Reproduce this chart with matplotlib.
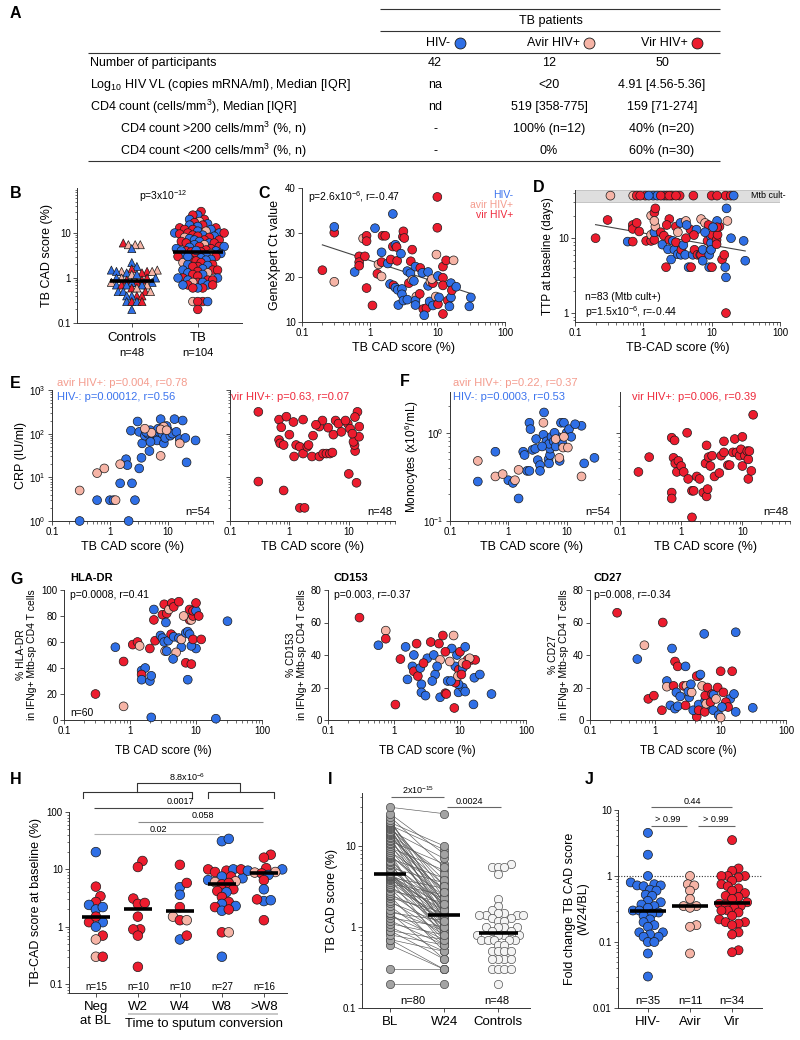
import numpy as np
import matplotlib
matplotlib.use('Agg')
from matplotlib import pyplot as plt
from matplotlib.ticker import FixedLocator, FuncFormatter, NullFormatter, LogLocator

plt.rcParams['font.family'] = ['Liberation Sans', 'DejaVu Sans']
plt.rcParams['mathtext.fontset'] = 'custom'
plt.rcParams['mathtext.rm'] = 'Liberation Sans'
plt.rcParams['mathtext.it'] = 'Liberation Sans:italic'
plt.rcParams['mathtext.bf'] = 'Liberation Sans:bold'
plt.rcParams['mathtext.default'] = 'regular'

# ---------------- data ----------------
# A: table
tab_rows = ["Number of participants",
            "Log$_{10}$ HIV VL (copies mRNA/ml), Median [IQR]",
            "CD4 count (cells/mm$^3$), Median [IQR]",
            "CD4 count >200 cells/mm$^3$ (%, n)",
            "CD4 count <200 cells/mm$^3$ (%, n)"]
tab_indent = [0, 0, 0, 1, 1]
tab_hivneg = ["42", "na", "nd", "-", "-"]
tab_avir = ["12", "<20", "519 [358-775]", "100% (n=12)", "0%"]
tab_vir = ["50", "4.91 [4.56-5.36]", "159 [71-274]", "40% (n=20)", "60% (n=30)"]
tab_groups = ["HIV-", "Avir HIV+", "Vir HIV+"]

# B: controls (triangles) and TB (circles)
ctrl_cad = [6.0, 5.5, 5.5, 5.5, 4.5, 2.2, 1.8, 1.6, 1.5, 1.5,
            1.4, 1.4, 1.4, 1.4, 1.3, 1.3, 1.2, 1.2, 1.0, 1.0,
            1.0, 1.0, 0.9, 0.9, 0.8, 0.8, 0.8, 0.8, 0.7, 0.7,
            0.7, 0.7, 0.7, 0.6, 0.6, 0.5, 0.5, 0.5, 0.5, 0.4,
            0.4, 0.4, 0.4, 0.3, 0.3, 0.3, 0.3, 0.2]
ctrl_col = 'rpppbbbrpb' 'prbprbpbrp' 'bbrrpbrbbp' 'rbbrpbbrpr' 'brbbrbrb'
tb_cad = [30, 25, 25, 20, 20, 18, 17, 16, 15, 15,
          14, 13, 13, 12, 12, 12, 11, 11, 10, 10,
          10, 10, 9.5, 9, 9, 8.5, 8.5, 8, 8, 7.5,
          7, 7, 7, 6.5, 6.5, 6, 6, 6, 5.5, 5.5,
          5, 5, 5, 4.8, 4.5, 4.5, 4.2, 4, 4, 4,
          3.8, 3.8, 3.5, 3.5, 3.2, 3.2, 3, 3, 3, 2.8,
          2.6, 2.5, 2.5, 2.4, 2.2, 2.2, 2.0, 2.0, 1.9, 1.8,
          1.8, 1.6, 1.5, 1.5, 1.5, 1.4, 1.3, 1.3, 1.2, 1.2,
          1.1, 1.0, 1.0, 1.0, 0.9, 0.9, 0.9, 0.8, 0.8, 0.8,
          0.7, 0.7, 0.7, 0.7, 0.6, 0.6, 0.6, 4.1, 0.3, 0.3,
          0.3, 0.3, 0.2, 3.0]
tb_col = ('rbrrbprbrb' 'brrbrrbpbr' 'rbrbrrbrpb' 'brrbrbrrbp' 'rbrbbrrbrb'
          'rrbpbrbrrb' 'brbrrpbrbr' 'rbrrbrbprb' 'rbrbrrbrbp' 'brrbrbrbrp' 'rbrb')

# C: GeneXpert Ct vs TB CAD
c_cad = [0.2, 0.3, 0.3, 0.3, 0.6, 0.7, 0.7, 0.7, 0.85, 0.8,
         0.9, 0.9, 0.9, 1.1, 1.3, 1.35, 1.5, 1.5, 1.5, 1.55,
         1.7, 1.2, 1.85, 2.05, 2.0, 2.25, 2.4, 2.2, 2.4, 2.5,
         2.6, 2.65, 2.55, 2.9, 3.0, 3.0, 3.1, 3.15, 3.25, 3.15,
         3.6, 3.6, 4.25, 4.05, 3.8, 4.0, 4.25, 4.5, 4.75, 4.9,
         4.75, 4.75, 5.5, 5.6, 6.0, 6.2, 6.9, 6.4, 7.3, 7.3,
         7.9, 8.6, 8.3, 7.7, 8.6, 9.5, 9.7, 10.2, 10.2, 10.6,
         10, 12.1, 12.1, 12.1, 12.1, 13.5, 14.3, 15.1, 15.9, 15.9,
         17.4, 16.4, 19, 29.7, 31.3, 10, 2.2]
c_ct = [21.6, 19, 30, 31.3, 21.2, 24.7, 23.4, 22.6, 24.7, 28.7,
        29.3, 28.1, 17.6, 13.7, 20.8, 22.9, 20.2, 23.4, 25.6, 29.3,
        29.3, 31, 23.1, 24, 18.5, 18.2, 17.7, 26.9, 27.3, 26.8,
        17.2, 13.8, 23.7, 25.3, 17.4, 16.2, 29.1, 30.3, 28.8, 14.8,
        15, 21.4, 26.2, 23.6, 18.7, 20.9, 19.4, 19.2, 22.4, 15.7,
        14.8, 13.8, 16.3, 22.1, 21, 12.9, 13.1, 11.5, 21.2, 18.1,
        19, 18.7, 19.6, 14.6, 13.7, 15.7, 25.1, 14, 20.3, 15.5,
        31.1, 22.4, 19.9, 18.2, 11.8, 23.8, 14.8, 13.5, 15.5, 18.7,
        23.8, 17.1, 17.9, 13.5, 15.5, 38, 34.2]
c_col = ('rprbbrrrrp' 'rrrrrpprbr' 'rbbrbrbrbr' 'bbrbbbrrrb' 'bbrrrbpbbp'
         'bbrrbrrbbb' 'prpbbpprbb' 'rrrrrrrbbb' 'prbbbrb')

# D: TTP vs TB CAD (culture positive) + culture negative row
d_cad = [0.2, 0.59, 0.7, 0.7, 0.7, 0.87, 1.1, 1.3, 1.3, 1.45,
         1.45, 1.5, 1.8, 2.0, 1.9, 2.15, 2.3, 2.4, 2.55, 2.7,
         2.85, 3.0, 3.0, 3.2, 3.55, 3.6, 3.85, 4.1, 4.2, 4.9,
         5.3, 4.6, 5.0, 5.6, 6.2, 6.8, 7.0, 7.4, 7.4, 8.7,
         9.6, 9.2, 9.2, 10.1, 9.8, 9.8, 9.8, 10.1, 11.8, 11.8,
         12.2, 13, 14.2, 15.3, 15.8, 16.2, 16.2, 19.2, 29.4, 31,
         0.3, 0.8, 1.3, 1.45, 1.5, 1.45, 2.4, 3.5, 4.2, 4.3,
         7, 8, 9, 12, 12, 16.5, 17, 6, 3.2, 2.2,
         10.5, 5.5, 8]
d_ttp = [10, 9, 9, 15, 13.3, 12.3, 9.2, 9.2, 11.1, 9.5,
         12, 14.3, 12, 10.8, 8.2, 4.1, 7.1, 9.5, 5.2, 9.2,
         7, 8.8, 14.3, 6.1, 6, 7, 8.1, 6, 10, 13,
         6, 4.1, 4.1, 7, 6, 6, 6, 7, 5, 9.2,
         7, 6, 4.1, 4.1, 10.5, 8.6, 7, 11.1, 9.5, 8.3,
         11.1, 14.3, 5.2, 6, 4.1, 3, 1, 10, 9.2, 5,
         17.5, 16, 20, 22, 25, 17, 18, 16, 17, 15,
         18, 16, 15, 17, 14, 25, 17, 13, 12, 15,
         14, 11, 12]
d_col = ('rbrrrrrrpr' 'bprrbrbrbb' 'brrbbrbbrr' 'bbrrrbrbbr' 'pbbrbbbrrr'
         'rrrrbbrbbb' 'rrprrprbpb' 'pprbrbpbpr' 'brb')
dneg_cad = [0.33, 0.71, 0.8, 1.07, 1.4, 1.6, 2.0, 2.2, 2.6, 3.4, 5.4,
            10, 16, 19, 21, 0.9, 1.2, 1.8, 2.4, 3.0, 12]
dneg_col = 'pprrbbbrrrrrrrbrbrrrr'

# E: CRP (HIV- and avir HIV+ | vir HIV+)
e_cad = [0.3, 0.6, 1.0, 1.15, 1.5, 1.9, 2.0, 2.1, 2.4, 2.7,
         3.2, 3.5, 4.8, 21, 2.3, 3.0, 3.2, 3.6, 4.0, 4.5,
         5.0, 5.5, 6.0, 6.5, 7.0, 7.5, 8.0, 8.5, 9.0, 10,
         11, 12, 13, 14, 16, 18, 20, 30, 5.0, 9.5,
         4.2, 6.8,
         0.3, 0.6, 0.8, 1.25, 1.5, 7.5, 5.2, 8.5, 7.5, 9.5, 16, 4.0]
e_crp = [1.0, 3, 3, 3, 7.3, 26, 19, 1.0, 7.3, 3,
         16, 28, 40, 22, 117, 190, 110, 60, 90, 100,
         120, 80, 100, 70, 110, 215, 100, 60, 80, 120,
         90, 100, 215, 110, 75, 200, 80, 70, 65, 150,
         110, 130,
         5, 12.5, 16, 3, 20, 31, 105, 145, 125, 120, 60, 130]
e_col = 'b' * 42 + 'p' * 12
ev_cad = [0.3, 0.8, 1.5, 1.8, 10, 13.5, 1.2, 0.3, 0.67, 0.89,
          0.73, 0.67, 1.17, 1.7, 0.7, 0.8, 1.3, 1.5, 1.7, 2.0,
          2.1, 2.4, 3.2, 3.7, 4.2, 4.8, 5.3, 12.8, 12.5, 12,
          3.2, 3.6, 4.5, 6.0, 6.7, 9.6, 8.8, 14, 12.7, 15,
          14.9, 2.5, 5.5, 7.5, 10.5, 11.5, 2.8, 1.0]
ev_crp = [8, 5, 2, 2, 12, 7.5, 30, 316, 210, 245,
          140, 72, 185, 210, 60, 55, 55, 50, 35, 50,
          55, 30, 30, 35, 35, 35, 37, 40, 55, 65,
          145, 200, 137, 200, 170, 170, 200, 316, 240, 145,
          85, 90, 95, 110, 130, 100, 160, 95]

# F: monocytes
f_cad = [0.3, 0.6, 1.0, 1.2, 1.5, 1.8, 1.9, 2.1, 2.3, 2.6,
         2.9, 3.2, 3.5, 3.5, 4.9, 5.0, 5.2, 5.2, 7.6, 20,
         30, 4.1, 2.3, 2.4, 3.0, 4.0, 4.5, 5.0, 5.5, 6.0,
         6.5, 7.0, 8.0, 9.0, 10, 11, 12, 18, 14, 3.8,
         8.5, 6.2,
         0.3, 0.6, 0.8, 1.3, 1.5, 7.5, 8.7, 10.5, 18, 4.0, 6.5, 9.0]
f_mono = [0.28, 0.61, 0.29, 0.27, 0.18, 0.61, 0.56, 0.37, 0.37, 0.64,
          0.66, 0.49, 0.43, 0.37, 0.5, 0.45, 0.56, 0.66, 0.48, 0.45,
          0.52, 1.7, 1.3, 1.1, 0.85, 0.95, 0.8, 0.75, 0.9, 0.8,
          0.7, 0.9, 1.3, 1.3, 1.0, 1.1, 0.9, 1.2, 1.25, 0.7,
          0.75, 1.0,
          0.48, 0.32, 0.34, 0.29, 0.38, 0.52, 0.68, 0.68, 0.32, 1.3, 0.85, 0.9]
f_col = 'b' * 42 + 'p' * 12
fv_cad = [0.2, 0.3, 0.7, 0.7, 0.75, 0.8, 0.9, 0.85, 1.0, 1.1,
          1.3, 1.5, 1.6, 1.5, 1.8, 2.0, 2.3, 2.6, 2.7, 2.5,
          2.8, 3.0, 3.2, 3.5, 4.2, 4.5, 5.0, 5.8, 6.2, 7.0,
          8.0, 9.0, 9.5, 10, 11, 12, 12.5, 12.5, 13, 14,
          0.7, 0.78, 1.25, 2.6, 5.0, 7.5, 10, 15]
fv_mono = [0.36, 0.53, 0.21, 0.18, 0.52, 0.45, 0.48, 0.36, 0.42, 0.36,
           0.3, 0.22, 0.22, 0.11, 0.32, 0.3, 0.21, 0.19, 0.23, 0.45,
           0.53, 0.42, 0.55, 0.32, 0.35, 0.55, 0.6, 0.43, 0.43, 0.6,
           0.6, 0.55, 0.65, 0.42, 0.55, 0.62, 0.5, 0.3, 0.62, 0.37,
           0.88, 0.82, 1.0, 0.72, 0.8, 0.85, 0.9, 1.6]

# G: T cell phenotypes
g1_cad = [0.6, 1.1, 1.3, 1.4, 2.0, 2.3, 2.3, 2.4, 2.9, 3.1,
          3.3, 3.1, 3.3, 3.5, 3.4, 3.6, 3.8, 3.6, 3.9, 4.2,
          4.3, 4.6, 4.6, 5.5, 5.5, 6, 6, 7, 7.5, 8,
          8, 8.5, 9, 8, 9, 10, 10, 11, 10, 8.5,
          9, 7, 1.5, 1.7, 1.5, 1.5, 2.0, 2.1, 7.5, 8.5,
          0.3, 0.8, 0.8, 2.1, 20, 30, 5, 4.5, 12, 6.5]
g1_val = [56, 58, 60, 57, 55, 85, 77, 61, 65, 63,
          89, 81, 60, 75, 53, 53, 61, 82, 85, 66,
          90, 64, 87, 91, 63, 56, 62, 67, 68, 66,
          77, 77, 80, 85, 84, 84, 90, 80, 55, 57,
          62, 44, 38, 40, 35, 31, 30, 34, 31, 43,
          20, 10.5, 45, 2, 1, 76, 52, 47, 62, 80]
g1_col = 'brrprbrrbb' 'rrbbpbbrpr' 'rbrrbbpbbb' 'rprrrbrrbb' 'rrbbrbbbbr' 'rprbbbpbrp'
g2_cad = [0.3, 0.75, 0.75, 0.58, 1.25, 1.5, 2.2, 2.0, 3.6, 4.8,
          1.05, 2.6, 2.6, 3.0, 5, 6, 8.2, 9.5, 11, 16,
          30, 9.5, 8.5, 1.9, 2.0, 2.3, 2.5, 4.2, 3.8, 6.5,
          7.3, 6.2, 8.5, 9.6, 9.3, 11, 10.5, 12, 16.5, 5.5,
          8, 7.5, 3.2, 4.0, 5, 6, 7, 9, 10, 12,
          13, 15, 17, 14, 2.8, 11, 20, 4.5, 12.5, 1.6]
g2_val = [63, 55, 50, 46, 37.5, 45, 47, 40, 48, 47,
          9.5, 22, 17, 15, 14, 16.5, 7.4, 17, 20, 9.6,
          16, 22, 23, 33, 30, 27, 32, 28, 24, 24,
          24, 16, 33, 31, 27, 32, 28, 17.5, 26, 52,
          52, 44, 38, 40, 37, 42, 36, 40, 42, 45,
          37, 37, 37, 38, 35, 35, 28, 33, 34, 25]
g2_col = 'rprbrbrbrr' 'rbbbbrrbbb' 'bbrbrrbbbb' 'brbrpbrbbr' 'pbbbprpbrb' 'rrrprpbbrb'
g3_cad = [0.26, 1.3, 5.6, 17, 0.68, 1.8, 0.53, 2.0, 2.2, 2.9,
          15, 0.78, 0.95, 1.26, 1.5, 1.5, 1.7, 2.0, 2.2, 1.9,
          2.1, 2.4, 2.7, 3.0, 2.9, 3.3, 3.2, 4.3, 3.8, 3.6,
          4.6, 4.3, 4.9, 4.6, 4.6, 5.2, 5.7, 5.8, 5.8, 6.3,
          6.7, 6.0, 7, 7.7, 7.4, 7.8, 9.3, 14, 17, 10,
          31, 16, 10, 9, 11, 12, 13, 8.5, 10.5, 3.5]
g3_val = [66, 60, 53, 54, 46, 44, 37.5, 36, 33, 33,
          30, 13, 15, 6, 24, 20.5, 9, 7, 8.5, 21,
          17, 14.5, 21, 21, 9, 14, 17.5, 2, 6, 17,
          27, 27, 28, 9.5, 6, 21, 5, 12, 15, 20,
          9.5, 10, 11, 6, 16, 15.5, 3, 13, 5, 30,
          7.5, 16, 1.5, 20, 17, 11, 8, 13, 8, 22]
g3_col = 'rrbbpbbrrb' 'rrrrbpbbbr' 'bbrprbbrbp' 'rrbbrprbrr' 'bprbrbbbbr' 'bbprrrrpbb'

# H: baseline score by time to sputum conversion
h_cats = ['Neg\nat BL', 'W2', 'W4', 'W8', '>W8']
h_n = ['n=15', 'n=10', 'n=10', 'n=27', 'n=16']
h_vals = [[20, 5, 3.4, 2.7, 2.4, 2.0, 2.2, 1.2, 1.2, 1.0, 0.7, 0.6, 0.3, 0.3, 1.5],
          [14, 11, 3.1, 2.5, 2.6, 1.5, 0.9, 0.9, 0.7, 0.2],
          [12, 4.9, 5.8, 3.6, 2.2, 1.5, 1.3, 1.3, 0.6, 0.7],
          [31, 34, 9.5, 10, 10, 9, 7.5, 7.5, 7, 6.5, 6.2, 6, 5.5, 5.8, 4.5, 4.2, 4,
           3.3, 2.7, 2.5, 2.3, 2.2, 1.9, 2.0, 0.8, 0.8, 0.3],
          [18, 16, 10.5, 10, 10, 9.5, 9, 8.8, 8.5, 8.0, 6.5, 4.5, 2.8, 3.0, 2.9, 1.3]]
h_cols = ['brrrbbbbrbrpprr', 'rrrrrrrrrr', 'rbrbrprpbr',
          'bbrrbrrbbbpprrrrbrrbbrbrrpb', 'rrrbrbpprbrbbrbr']

# I: paired BL / W24 and controls
i_bl = [0.2, 0.3, 0.6, 0.7, 0.7, 0.8, 0.9, 0.9, 1.0, 1.1,
        1.2, 1.3, 1.4, 1.5, 1.5, 1.6, 1.8, 2.0, 2.1, 2.3,
        2.4, 2.5, 2.6, 2.8, 3.0, 3.1, 3.2, 3.4, 3.6, 3.8,
        3.9, 4.0, 4.1, 4.2, 4.2, 4.3, 4.3, 4.4, 4.4, 4.5,
        4.6, 5.0, 5.4, 5.8, 6.0, 6.3, 6.6, 7.0, 7.2, 7.5,
        7.8, 8.0, 8.5, 9.0, 9.5, 10, 10.5, 11, 11.5, 12,
        12.5, 13, 13.5, 14, 14.5, 15, 15.5, 16, 16.5, 17,
        17.5, 18, 18.5, 19, 19.5, 20, 21, 23, 25, 30]
i_w24 = [0.2, 0.3, 0.3, 0.5, 0.3, 0.6, 0.4, 0.7, 0.5, 0.8,
         0.6, 1.0, 0.7, 0.4, 1.2, 0.9, 0.6, 1.1, 0.8, 1.5,
         0.5, 1.3, 0.9, 2.0, 0.7, 1.4, 1.0, 2.5, 1.2, 0.6,
         1.6, 1.1, 3.0, 1.3, 0.8, 1.8, 1.5, 0.9, 2.2, 1.4,
         1.0, 1.7, 3.5, 1.2, 2.0, 0.7, 1.6, 4.0, 1.1, 2.4,
         1.9, 0.8, 3.0, 1.5, 5.0, 2.1, 1.3, 2.8, 6.0, 1.7,
         3.3, 1.0, 2.6, 4.5, 1.4, 2.0, 7.0, 1.8, 3.8, 1.2,
         2.3, 9.0, 1.6, 3.2, 10, 2.7, 1.9, 5.5, 8.0, 25]
i_cats = ['BL', 'W24', 'Controls']

# J: fold change W24/BL
j_cats = ['HIV-', 'Avir', 'Vir']
j_n = ['n=35', 'n=11', 'n=34']
j_neg = [4.5, 2.1, 1.0, 0.8, 0.75, 0.72, 0.72, 0.7, 0.62, 0.6, 0.52, 0.5, 0.42, 0.4,
         0.37, 0.35, 0.33, 0.3, 0.3, 0.28, 0.27, 0.25, 0.22, 0.2, 0.18, 0.17, 0.14,
         0.14, 0.13, 0.12, 0.12, 0.1, 0.1, 0.067, 0.03]
j_avir = [1.0, 0.75, 0.72, 0.6, 0.45, 0.35, 0.35, 0.33, 0.18, 0.17, 0.067]
j_vir = [3.5, 1.3, 1.2, 1.0, 1.0, 1.0, 0.95, 0.85, 0.75, 0.7, 0.65, 0.6, 0.55, 0.5,
         0.48, 0.45, 0.4, 0.38, 0.37, 0.35, 0.33, 0.3, 0.3, 0.28, 0.25, 0.22, 0.2,
         0.2, 0.19, 0.18, 0.14, 0.13, 0.075, 0.07]

COL = {'b': '#2f6fe6', 'p': '#f6b4a6', 'r': '#ec1c2e'}
TXT = {'b': '#3c74ee', 'p': '#f49c8e', 'r': '#ee2a3c'}
EDGE = '#1a1a1a'

# ---------------- helpers ----------------
fig = plt.figure(figsize=(8, 10.4), dpi=100)


def box(x0, y0, x1, y1):
    # pixel box (top-left origin) -> axes
    return fig.add_axes([x0 / 800, 1 - y1 / 1040, (x1 - x0) / 800, (y1 - y0) / 1040])


def style(ax):
    ax.spines['top'].set_visible(False)
    ax.spines['right'].set_visible(False)
    for s in ['left', 'bottom']:
        ax.spines[s].set_linewidth(0.7)
        ax.spines[s].set_color('#333333')
    ax.tick_params(which='major', length=3, width=0.6, labelsize=7, pad=1.5, color='#333333')
    ax.tick_params(which='minor', length=1.8, width=0.5, color='#333333')


def log_axis(ax, which, lo, hi, major, sci=False):
    if which == 'x':
        ax.set_xscale('log'); ax.set_xlim(lo, hi); a = ax.xaxis
    else:
        ax.set_yscale('log'); ax.set_ylim(lo, hi); a = ax.yaxis
    a.set_major_locator(FixedLocator(major))
    if sci:
        a.set_major_formatter(FuncFormatter(lambda v, p: '$10^{%d}$' % round(np.log10(v))))
    else:
        a.set_major_formatter(FuncFormatter(lambda v, p: '%g' % v))
    a.set_minor_locator(LogLocator(base=10, subs=np.arange(2, 10), numticks=20))
    a.set_minor_formatter(NullFormatter())


def dots(ax, x, y, cols, s=40, marker='o'):
    ax.scatter(x, y, s=s, c=[COL[c] for c in cols], marker=marker, edgecolors=EDGE,
               linewidths=0.5, zorder=3, clip_on=False)


def swarm(ax, pos, vals, s, gap=0.85):
    # spread points sideways so they do not pile up (layout only)
    d = np.sqrt(s) * 100 / 72 * gap
    pts = ax.transData.transform(np.column_stack([np.full(len(vals), float(pos)), vals]))
    ys = pts[:, 1]
    offs = np.zeros(len(vals))
    cands = [0.0]
    for j in range(1, 80):
        cands += [j * d * 0.35, -j * d * 0.35]
    done = []
    for i in np.argsort(ys):
        near = [k for k in done if abs(ys[k] - ys[i]) < d]
        for c in cands:
            if all((c - offs[k]) ** 2 + (ys[i] - ys[k]) ** 2 >= d * d for k in near):
                offs[i] = c
                break
        done.append(i)
    unit = ax.transData.transform([(1, 1)])[0][0] - ax.transData.transform([(0, 1)])[0][0]
    return pos + offs / unit


def median_bar(ax, pos, vals, half, lw=2.6):
    m = np.median(vals)
    ax.plot([pos - half, pos + half], [m, m], color='black', lw=lw, zorder=6,
            solid_capstyle='butt')


CAD_TICKS = [0.1, 1, 10, 100]

# ---------------- B ----------------
axB = box(77, 188, 242, 323)
style(axB)
log_axis(axB, 'y', 0.1, 100, [0.1, 1, 10])
axB.set_xlim(-0.83, 1.67)
axB.set_xticks([0, 1]); axB.set_xticklabels([])
dots(axB, swarm(axB, 0, ctrl_cad, 34, gap=0.6), ctrl_cad, ctrl_col, s=34, marker='^')
dots(axB, swarm(axB, 1, tb_cad, 38, gap=0.55), tb_cad, tb_col, s=38)
median_bar(axB, 0, ctrl_cad, 0.33)
median_bar(axB, 1, tb_cad, 0.38)
axB.set_ylabel('TB CAD score (%)', fontsize=9, labelpad=3)

# ---------------- C ----------------
axC = box(302, 188, 505, 322)
style(axC)
log_axis(axC, 'x', 0.1, 100, CAD_TICKS)
axC.set_ylim(10, 40); axC.set_yticks([10, 20, 30, 40])
fit = np.polyfit(np.log10(c_cad), c_ct, 1)
xx = np.array([min(c_cad), max(c_cad)])
axC.plot(xx, np.polyval(fit, np.log10(xx)), color='#444444', lw=0.8, zorder=2)
dots(axC, c_cad, c_ct, c_col)
axC.set_xlabel('TB CAD score (%)', fontsize=9, labelpad=3)
axC.set_ylabel('GeneXpert Ct value', fontsize=9, labelpad=3)

# ---------------- D ----------------
axD = box(575, 190, 780, 322)
style(axD)
log_axis(axD, 'x', 0.1, 100, CAD_TICKS)
log_axis(axD, 'y', 0.76, 44, [1, 10])
axD.axhspan(30, 44, facecolor='#dedede', edgecolor='#bdbdbd', lw=0.6, zorder=0)
fit = np.polyfit(np.log10(d_cad), np.log10(d_ttp), 1)
xx = np.array([min(d_cad), max(d_cad)])
axD.plot(xx, 10 ** np.polyval(fit, np.log10(xx)), color='#444444', lw=0.8, zorder=2)
dots(axD, d_cad, d_ttp, d_col)
dots(axD, dneg_cad, np.full(len(dneg_cad), 37.0), dneg_col)
axD.set_xlabel('TB-CAD score (%)', fontsize=9, labelpad=3)
axD.set_ylabel('TTP at baseline (days)', fontsize=8.5, labelpad=3)

# ---------------- E ----------------
axE1 = box(52, 390, 213, 521)
axE2 = box(230, 390, 395, 521)
for ax in (axE1, axE2):
    style(ax)
    log_axis(ax, 'x', 0.1, 60, CAD_TICKS)
    log_axis(ax, 'y', 1, 1000, [1, 10, 100, 1000], sci=True)
    ax.set_xlabel('TB CAD score (%)', fontsize=9, labelpad=3)
axE2.tick_params(labelleft=False)
dots(axE1, e_cad, e_crp, e_col)
dots(axE2, ev_cad, ev_crp, 'r' * len(ev_cad))
axE1.set_ylabel('CRP (IU/ml)', fontsize=9, labelpad=2)

# ---------------- F ----------------
axF1 = box(450, 392, 612, 521)
axF2 = box(620, 392, 790, 521)
for ax in (axF1, axF2):
    style(ax)
    log_axis(ax, 'x', 0.1, 60, CAD_TICKS)
    log_axis(ax, 'y', 0.1, 2.9, [0.1, 1], sci=True)
    ax.set_xlabel('TB CAD score (%)', fontsize=9, labelpad=3)
axF2.tick_params(labelleft=False)
dots(axF1, f_cad, f_mono, f_col)
dots(axF2, fv_cad, fv_mono, 'r' * len(fv_cad))
axF1.set_ylabel('Monocytes (x10$^{6}$/mL)', fontsize=8.5, labelpad=2)

# ---------------- G ----------------
g_sets = [(64, 262, g1_cad, g1_val, g1_col, 100, 'HLA-DR'),
          (328, 526, g2_cad, g2_val, g2_col, 80, 'CD153'),
          (590, 786, g3_cad, g3_val, g3_col, 80, 'CD27')]
for x0, x1, gx, gy, gc, top, name in g_sets:
    ax = box(x0, 590, x1, 720)
    style(ax)
    log_axis(ax, 'x', 0.1, 100, CAD_TICKS)
    ax.set_ylim(0, top); ax.set_yticks(np.arange(0, top + 1, 20))
    dots(ax, gx, gy, gc)
    ax.set_xlabel('TB CAD score (%)', fontsize=8.5, labelpad=6)
    ax.set_ylabel('%% %s\nin IFNg+ Mtb-sp CD4 T cells' % name, fontsize=7.5,
                  labelpad=3, linespacing=1.15)

# ---------------- H ----------------
axH = box(69, 812, 287, 993)
style(axH)
log_axis(axH, 'y', 0.07, 100, [0.1, 1, 10, 100])
axH.set_xlim(-0.64, 4.55)
axH.set_xticks(range(5)); axH.set_xticklabels(h_cats, fontsize=9.5)
axH.tick_params(axis='x', pad=3)
for k, (vals, cols) in enumerate(zip(h_vals, h_cols)):
    dots(axH, swarm(axH, k, vals, 48, gap=0.68), vals, cols, s=48)
    median_bar(axH, k, vals, 0.33)
axH.set_ylabel('TB-CAD score at baseline (%)', fontsize=9, labelpad=3)

# ---------------- I ----------------
axI = box(362, 793, 530, 1008)
style(axI)
log_axis(axI, 'y', 0.1, 45, [0.1, 1, 10])
axI.set_xlim(-0.52, 2.59)
axI.set_xticks(range(3)); axI.set_xticklabels(i_cats, fontsize=9.5)
axI.tick_params(axis='x', pad=3)
for a, b in zip(i_bl, i_w24):
    axI.plot([0, 1], [a, b], color='#5a5a5a', lw=0.45, zorder=2)
axI.scatter(np.zeros(len(i_bl)), i_bl, s=36, c='#a3a3a3', edgecolors='#4a4a4a',
            linewidths=0.5, zorder=3, clip_on=False)
axI.scatter(np.ones(len(i_w24)), i_w24, s=36, c='#a3a3a3', edgecolors='#4a4a4a',
            linewidths=0.5, zorder=3, clip_on=False)
axI.scatter(swarm(axI, 2, ctrl_cad, 36, gap=0.72), ctrl_cad, s=36, c='#f4f4f4',
            edgecolors='#555555', linewidths=0.5, zorder=3, clip_on=False)
median_bar(axI, 0, i_bl, 0.3)
median_bar(axI, 1, i_w24, 0.3)
median_bar(axI, 2, ctrl_cad, 0.36)
axI.set_ylabel('TB CAD score (%)', fontsize=9, labelpad=3)

# ---------------- J ----------------
axJ = box(618, 810, 762, 1008)
style(axJ)
log_axis(axJ, 'y', 0.01, 10, [0.01, 0.1, 1, 10])
axJ.set_xlim(-0.71, 2.71)
axJ.set_xticks(range(3)); axJ.set_xticklabels(j_cats, fontsize=9.5)
axJ.tick_params(axis='x', pad=3)
axJ.axhline(1, color='#333333', lw=0.8, ls=(0, (1, 1.5)), zorder=1)
for k, (vals, c) in enumerate(zip([j_neg, j_avir, j_vir], 'bpr')):
    dots(axJ, swarm(axJ, k, vals, 42, gap=0.68), vals, c * len(vals), s=42)
    median_bar(axJ, k, vals, 0.42)
axJ.set_ylabel('Fold change TB CAD score\n(W24/BL)', fontsize=9, labelpad=3, linespacing=1.1)

# ---------------- overlay: table, letters, annotations ----------------
ov = fig.add_axes([0, 0, 1, 1], zorder=20)
ov.set_xlim(0, 800); ov.set_ylim(1040, 0); ov.axis('off')


def t(x, y, s, size=8, ha='left', color='black', **kw):
    ov.text(x, y, s, fontsize=size, ha=ha, va='center', color=color, **kw)


def hline(x0, x1, y, color='#333333', lw=0.8):
    ov.plot([x0, x1], [y, y], color=color, lw=lw, solid_capstyle='butt')


def bracket(x0, x1, y, drop, color='#333333'):
    ov.plot([x0, x0, x1, x1], [y + drop, y, y, y + drop], color=color, lw=0.8)


for letter, x, y in [('A', 10, 13), ('B', 10, 193), ('C', 258, 193), ('D', 533, 188),
                     ('E', 10, 383), ('F', 400, 381), ('G', 10, 580), ('H', 10, 779),
                     ('I', 328, 779), ('J', 585, 779)]:
    t(x, y, letter, size=11.5, weight='bold')

# table
hline(380, 720, 9)
t(551, 21, 'TB patients', size=9, ha='center')
hline(380, 720, 31)
for name, xr, xc, c in zip(tab_groups, [450, 580, 688], [460, 589, 697], 'bpr'):
    t(xr, 43, name, size=9, ha='right')
    ov.scatter([xc], [43], s=62, c=COL[c], edgecolors=EDGE, linewidths=0.6, clip_on=False)
hline(88, 720, 53)
for k, row in enumerate(tab_rows):
    y = 63 + 22 * k
    t(90 + 30 * tab_indent[k], y, row, size=9)
    t(435, y, tab_hivneg[k], size=9, ha='center')
    t(549, y, tab_avir[k], size=9, ha='center')
    t(662, y, tab_vir[k], size=9, ha='center')
hline(88, 720, 161)

# B
t(163, 196, 'p=3x10$^{-12}$', size=7.5, ha='center')
t(132, 338, 'Controls', size=9.5, ha='center')
t(132, 353, 'n=48', size=8, ha='center')
t(198, 338, 'TB', size=9.5, ha='center')
t(198, 353, 'n=104', size=8, ha='center')

# C
t(308, 197, 'p=2.6x10$^{-6}$, r=-0.47', size=7.5)
t(513, 195, 'HIV-', size=7.5, ha='right', color=TXT['b'])
t(513, 205, 'avir HIV+', size=7.5, ha='right', color=TXT['p'])
t(513, 215, 'vir HIV+', size=7.5, ha='right', color=TXT['r'])

# D
t(751, 196, 'Mtb cult-', size=6.5)
t(585, 297, 'n=83 (Mtb cult+)', size=7.5)
t(585, 312, 'p=1.5x10$^{-6}$, r=-0.44', size=7.5)

# E / F
t(57, 383, 'avir HIV+: p=0.004, r=0.78', size=8, color=TXT['p'])
t(57, 397, 'HIV-: p=0.00012, r=0.56', size=8, color=TXT['b'])
t(231, 397, 'vir HIV+: p=0.63, r=0.07', size=8, color=TXT['r'])
t(210, 512, 'n=54', size=8, ha='right')
t(392, 512, 'n=48', size=8, ha='right')
t(453, 383, 'avir HIV+: p=0.22, r=0.37', size=8, color=TXT['p'])
t(453, 397, 'HIV-: p=0.0003, r=0.53', size=8, color=TXT['b'])
t(632, 397, 'vir HIV+: p=0.006, r=0.39', size=8, color=TXT['r'])
t(610, 512, 'n=54', size=8, ha='right')
t(788, 512, 'n=48', size=8, ha='right')

# G
t(70, 578, 'HLA-DR', size=8, weight='bold')
t(70, 595, 'p=0.0008, r=0.41', size=7.5)
t(334, 578, 'CD153', size=8, weight='bold')
t(334, 595, 'p=0.003, r=-0.37', size=7.5)
t(594, 578, 'CD27', size=8, weight='bold')
t(594, 595, 'p=0.008, r=-0.34', size=7.5)
t(70, 713, 'n=60', size=7.5)

# H
t(187, 777, '8.8x10$^{-6}$', size=6.5, ha='center')
bracket(137, 240, 783, 9)
bracket(83, 192, 792, 6)
bracket(208, 274, 792, 6)
t(180, 802, '0.0017', size=6.5, ha='center')
hline(94, 263, 808, color='#444444')
t(203, 816, '0.058', size=6.5, ha='center')
hline(138, 263, 822, color='#8a8a8a')
t(158, 829, '0.02', size=6.5, ha='center')
hline(94, 219, 834, color='#b0b0b0')
for k, lab in enumerate(h_n):
    t(96 + 42 * k, 987, lab, size=7, ha='center')
hline(128, 278, 1014, color='#bdbdbd', lw=1.2)
t(204, 1024, 'Time to sputum conversion', size=9.5, ha='center')

# I
t(418, 790, '2x10$^{-15}$', size=6.5, ha='center')
hline(391, 444, 797, color='#666666')
t(469, 801, '0.0024', size=6.5, ha='center')
hline(447, 501, 807, color='#666666')
t(413, 1001, 'n=80', size=8, ha='center')
t(497, 1001, 'n=48', size=8, ha='center')

# J
t(692, 801, '0.44', size=6.5, ha='center')
hline(651, 732, 807, color='#666666')
t(668, 819, '> 0.99', size=6.5, ha='center')
hline(651, 687, 826, color='#666666')
t(716, 819, '> 0.99', size=6.5, ha='center')
hline(698, 735, 826, color='#666666')
for k, lab in enumerate(j_n):
    t(648 + 42 * k, 1001, lab, size=8, ha='center')

fig.savefig('out.png', dpi=100)
